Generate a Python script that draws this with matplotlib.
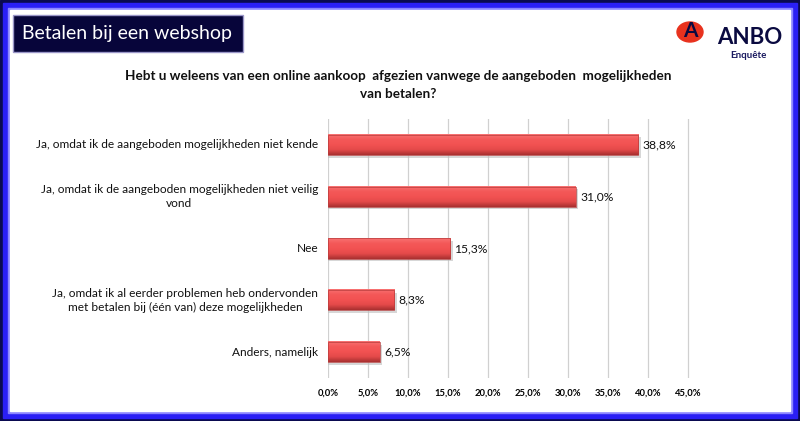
import numpy as np
import matplotlib.pyplot as plt
from matplotlib.patches import Rectangle, Ellipse
from matplotlib.colors import LinearSegmentedColormap
from matplotlib.transforms import blended_transform_factory

# data
categories = [
    "Ja, omdat ik de aangeboden mogelijkheden niet kende",
    "Ja, omdat ik de aangeboden mogelijkheden niet veilig\nvond",
    "Nee",
    "Ja, omdat ik al eerder problemen heb ondervonden\nmet betalen bij (één van) deze mogelijkheden",
    "Anders, namelijk",
]
values = [38.8, 31.0, 15.3, 8.3, 6.5]
value_labels = ["38,8%", "31,0%", "15,3%", "8,3%", "6,5%"]
xticks = [0, 5, 10, 15, 20, 25, 30, 35, 40, 45]
xtick_labels = ["0,0%", "5,0%", "10,0%", "15,0%", "20,0%", "25,0%",
                "30,0%", "35,0%", "40,0%", "45,0%"]

plt.rcParams['font.family'] = ['Lato', 'DejaVu Sans']

W, H = 800, 421
fig = plt.figure(figsize=(8, 4.21), dpi=100)
fig.patch.set_facecolor('white')

# frame round the picture
def frect(x, y, w, h, c):
    fig.patches.append(Rectangle((x / W, 1 - (y + h) / H), w / W, h / H,
                                 transform=fig.transFigure, color=c, zorder=-10))

frect(0, 0, W, H, '#0a0a50')
frect(3, 3, W - 6, H - 6, '#2a1ff5')
frect(8, 8, W - 16, H - 16, '#8c86ff')
frect(10, 10, W - 20, H - 20, 'white')

# header box
fig.patches.append(Rectangle((13 / W, 1 - 52 / H), 230 / W, 37 / H,
                             transform=fig.transFigure, facecolor='#07053a',
                             edgecolor='#9a96c8', lw=1, zorder=1))
fig.text(22 / W, 1 - 33.5 / H, "Betalen bij een webshop", color='white',
         fontsize=14, va='center', ha='left')

# logo
fig.patches.append(Ellipse((690 / W, 1 - 32 / H), 26 / W, 20 / H,
                           transform=fig.transFigure, color='#e8321e', zorder=1))
fig.text(690 / W, 1 - 31 / H, "A", color='#0a0a40', fontsize=15,
         fontweight='bold', ha='center', va='center', zorder=2)
fig.text(750 / W, 1 - 37 / H, "ANBO", color='#0a0a40', fontsize=16,
         fontweight='bold', ha='center', va='center')
fig.text(748 / W, 1 - 55 / H, "Enquête", color='#1a1a60', fontsize=7,
         fontweight='bold', ha='center', va='center')

# question title
fig.text(398 / W, 1 - 85 / H,
         "Hebt u weleens van een online aankoop  afgezien vanwege de aangeboden  mogelijkheden\nvan betalen?",
         ha='center', va='center', fontsize=9.7, fontweight='bold',
         linespacing=1.55, color='#111111')

ax = fig.add_axes([328 / W, 1 - 378 / H, 372 / W, 259 / H])
ax.set_facecolor('none')
y = list(range(len(categories)))
bh = 0.39

# bars with a vertical gradient (light top, dark bottom) and soft shadow
grad_cmap = LinearSegmentedColormap.from_list(
    'bar', ['#f87272', '#f45858', '#f25252', '#e44a4a', '#a83030'])
grad = np.linspace(0, 1, 64).reshape(-1, 1)
ax.barh([v + 0.05 for v in y], [v + 0.3 for v in values], height=bh,
        color='#bdbdbd', alpha=0.6, zorder=2)
for yi, v in zip(y, values):
    ax.imshow(grad, cmap=grad_cmap, aspect='auto', interpolation='bilinear',
              extent=[0, v, yi + bh / 2, yi - bh / 2], zorder=3)
ax.barh(y, values, height=bh, fill=False, edgecolor='#b83c3c',
        linewidth=0.5, zorder=4)

for yi, v, lab in zip(y, values, value_labels):
    ax.text(v + 0.5, yi, lab, va='center', ha='left', fontsize=8.7,
            color='#111111', zorder=5)

# category labels, right edge near the bars, lines centred
lab_tr = blended_transform_factory(fig.transFigure, ax.transData)
for yi, c in zip(y, categories):
    ax.text(318 / W, yi, c, transform=lab_tr, ha='right', va='center',
            multialignment='center', fontsize=8.6, color='#111111',
            linespacing=1.35)

ax.set_xlim(0, 46.5)
ax.set_ylim(len(categories) - 0.5, -0.5)
ax.set_xticks(xticks)
ax.set_xticklabels(xtick_labels, fontsize=6.8, fontweight='bold')
ax.set_yticks([])
ax.tick_params(axis='x', length=0, pad=8)
ax.xaxis.grid(True, color='#d0d0d0', linewidth=0.9, zorder=0)
ax.set_axisbelow(True)
for s in ax.spines.values():
    s.set_visible(False)

fig.savefig('out.png', dpi=100, facecolor=fig.get_facecolor())
